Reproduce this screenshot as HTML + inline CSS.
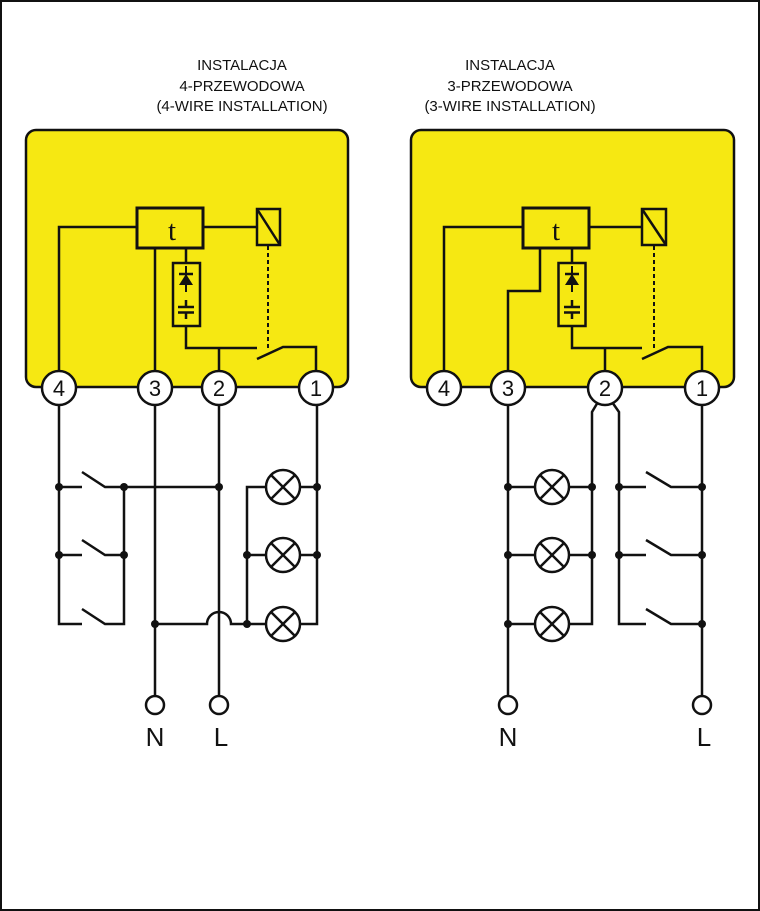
<!DOCTYPE html>
<html><head><meta charset="utf-8"><style>
html,body{margin:0;padding:0;background:#fff;}
svg{display:block;}
text{font-family:"Liberation Sans",Arial,sans-serif;}
</style></head><body>
<svg width="760" height="911" viewBox="0 0 760 911" xmlns="http://www.w3.org/2000/svg">
<rect x="1" y="1" width="758" height="909" fill="#fff" stroke="#111" stroke-width="2"/>

<!-- Headers -->
<g font-size="15" text-anchor="middle" fill="#111">
<text x="242" y="70">INSTALACJA</text>
<text x="242" y="91">4-PRZEWODOWA</text>
<text x="242" y="111">(4-WIRE INSTALLATION)</text>
<text x="510" y="70">INSTALACJA</text>
<text x="510" y="91">3-PRZEWODOWA</text>
<text x="510" y="111">(3-WIRE INSTALLATION)</text>
</g>

<!-- ===== LEFT ===== -->
<rect x="26" y="130" width="322" height="257" rx="10" fill="#f6e812" stroke="#111" stroke-width="2.5"/>
<g fill="none" stroke="#111" stroke-width="2.5">
<path d="M59 371 V227 H137"/>
<rect x="137" y="208" width="66" height="40" stroke-width="3"/>
<path d="M203 227 H257"/>
<rect x="257" y="209" width="23" height="36"/>
<path d="M257 209 L280 245"/>
<path d="M155 371 V248"/>
<path d="M186 248 V263"/>
<rect x="173" y="263" width="27" height="63"/>
<path d="M186 326 V348 H257"/>
<path d="M219 348 V371"/>
<path d="M257 359 L283 347 H316 V371"/>
<path d="M179 274 H193"/>
<path d="M186 266 V292" stroke-width="2"/>
<path d="M186 300 V307 M178 307 H194 M178 312.5 H194 M186 312 V319"/>
<path d="M268 246 V350" stroke-width="2" stroke-dasharray="4 3"/>
</g>
<polygon points="186,274 179,285 193,285" fill="#111"/>
<text x="172" y="240" text-anchor="middle" fill="#111" style="font-family:'Liberation Serif',serif;font-size:29px">t</text>

<g fill="none" stroke="#111" stroke-width="2.5">
<path d="M59 405 V624 H82"/>
<path d="M59 487 H82 M82 472 L105 487 H124"/>
<path d="M59 555 H82 M82 540 L105 555 H124"/>
<path d="M82 609 L105 624 H124 V487"/>
<path d="M124 487 H219"/>
<path d="M155 405 V696"/>
<path d="M155 624 H207 A12 12 0 0 1 231 624 H266"/>
<path d="M219 405 V696"/>
<path d="M266 487 H247 V624"/>
<path d="M247 555 H266"/>
<path d="M300 487 H317 M300 555 H317 M300 624 H317 V405"/>
</g>
<g fill="#fff" stroke="#111" stroke-width="2.5">
<circle cx="283" cy="487" r="17"/><circle cx="283" cy="555" r="17"/><circle cx="283" cy="624" r="17"/>
</g>
<g stroke="#111" stroke-width="2.5">
<path d="M271 475 L295 499 M295 475 L271 499"/>
<path d="M271 543 L295 567 M295 543 L271 567"/>
<path d="M271 612 L295 636 M295 612 L271 636"/>
</g>
<g fill="#111">
<circle cx="59" cy="487" r="4"/><circle cx="59" cy="555" r="4"/>
<circle cx="124" cy="487" r="4"/><circle cx="124" cy="555" r="4"/>
<circle cx="219" cy="487" r="4"/><circle cx="155" cy="624" r="4"/>
<circle cx="247" cy="555" r="4"/><circle cx="247" cy="624" r="4"/>
<circle cx="317" cy="487" r="4"/><circle cx="317" cy="555" r="4"/>
</g>
<g fill="#fff" stroke="#111" stroke-width="2.5">
<circle cx="59" cy="388" r="17"/><circle cx="155" cy="388" r="17"/>
<circle cx="219" cy="388" r="17"/><circle cx="316" cy="388" r="17"/>
<circle cx="155" cy="705" r="9"/><circle cx="219" cy="705" r="9"/>
</g>
<g font-size="22" text-anchor="middle" fill="#111">
<text x="59" y="396">4</text><text x="155" y="396">3</text>
<text x="219" y="396">2</text><text x="316" y="396">1</text>
</g>
<g font-size="26" text-anchor="middle" fill="#111">
<text x="155" y="746">N</text><text x="221" y="746">L</text>
</g>

<!-- ===== RIGHT ===== -->
<rect x="411" y="130" width="323" height="257" rx="10" fill="#f6e812" stroke="#111" stroke-width="2.5"/>
<g fill="none" stroke="#111" stroke-width="2.5">
<path d="M444 371 V227 H523"/>
<rect x="523" y="208" width="66" height="40" stroke-width="3"/>
<path d="M589 227 H642"/>
<rect x="642" y="209" width="24" height="36"/>
<path d="M642 209 L666 245"/>
<path d="M508 371 V291 H540 V248"/>
<path d="M572 248 V263"/>
<rect x="558.5" y="263" width="27" height="63"/>
<path d="M572 326 V348 H642"/>
<path d="M605 348 V371"/>
<path d="M642 359 L668 347 H702 V371"/>
<path d="M565 274 H579"/>
<path d="M572 266 V292" stroke-width="2"/>
<path d="M572 300 V307 M564 307 H580 M564 312.5 H580 M572 312 V319"/>
<path d="M654 246 V350" stroke-width="2" stroke-dasharray="4 3"/>
</g>
<polygon points="572,274 565,285 579,285" fill="#111"/>
<text x="556" y="240" text-anchor="middle" fill="#111" style="font-family:'Liberation Serif',serif;font-size:29px">t</text>

<g fill="none" stroke="#111" stroke-width="2.5">
<path d="M508 405 V696"/>
<path d="M508 487 H535 M508 555 H535 M508 624 H535"/>
<path d="M598 402 L592 412 V624 H569"/>
<path d="M569 487 H592 M569 555 H592"/>
<path d="M612 402 L619 412 V624 H646"/>
<path d="M619 487 H646 M619 555 H646"/>
<path d="M646 472 L671 487 H702 M646 540 L671 555 H702 M646 609 L671 624 H702"/>
<path d="M702 405 V696"/>
</g>
<g fill="#fff" stroke="#111" stroke-width="2.5">
<circle cx="552" cy="487" r="17"/><circle cx="552" cy="555" r="17"/><circle cx="552" cy="624" r="17"/>
</g>
<g stroke="#111" stroke-width="2.5">
<path d="M540 475 L564 499 M564 475 L540 499"/>
<path d="M540 543 L564 567 M564 543 L540 567"/>
<path d="M540 612 L564 636 M564 612 L540 636"/>
</g>
<g fill="#111">
<circle cx="508" cy="487" r="4"/><circle cx="508" cy="555" r="4"/><circle cx="508" cy="624" r="4"/>
<circle cx="592" cy="487" r="4"/><circle cx="592" cy="555" r="4"/>
<circle cx="619" cy="487" r="4"/><circle cx="619" cy="555" r="4"/>
<circle cx="702" cy="487" r="4"/><circle cx="702" cy="555" r="4"/><circle cx="702" cy="624" r="4"/>
</g>
<g fill="#fff" stroke="#111" stroke-width="2.5">
<circle cx="444" cy="388" r="17"/><circle cx="508" cy="388" r="17"/>
<circle cx="605" cy="388" r="17"/><circle cx="702" cy="388" r="17"/>
<circle cx="508" cy="705" r="9"/><circle cx="702" cy="705" r="9"/>
</g>
<g font-size="22" text-anchor="middle" fill="#111">
<text x="444" y="396">4</text><text x="508" y="396">3</text>
<text x="605" y="396">2</text><text x="702" y="396">1</text>
</g>
<g font-size="26" text-anchor="middle" fill="#111">
<text x="508" y="746">N</text><text x="704" y="746">L</text>
</g>
</svg>
</body></html>
